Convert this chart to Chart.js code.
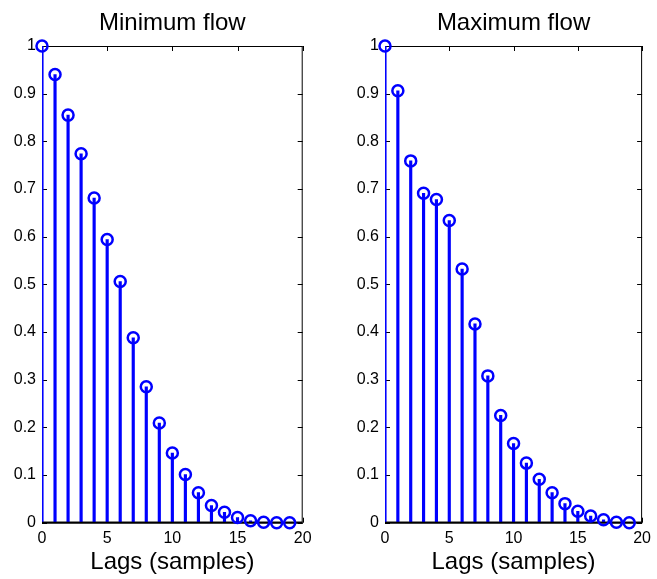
<!DOCTYPE html>
<html>
<head>
<meta charset="utf-8">
<script src="https://cdn.jsdelivr.net/npm/chart.js@4/dist/chart.umd.min.js"></script>
<style>
  body { margin: 0; background: #fff; }
  #wrap { position: relative; width: 657px; height: 579px; }
  canvas { position: absolute; top: 0; }
</style>
</head>
<body>
<div id="wrap">
  <canvas id="chartMin" width="328" height="579" style="left:0"></canvas>
  <canvas id="chartMax" width="329" height="579" style="left:328px"></canvas>
</div>
<script>
var lags = [0, 1, 2, 3, 4, 5, 6, 7, 8, 9, 10, 11, 12, 13, 14, 15, 16, 17, 18, 19];
var minFlow = [1.0, 0.940, 0.855, 0.774, 0.681, 0.594, 0.506, 0.388, 0.285, 0.209,
               0.146, 0.101, 0.063, 0.036, 0.022, 0.011, 0.004, 0.001, 0.0, 0.0];
var maxFlow = [1.0, 0.906, 0.759, 0.691, 0.678, 0.634, 0.532, 0.417, 0.308, 0.225,
               0.166, 0.125, 0.091, 0.063, 0.040, 0.024, 0.014, 0.006, 0.001, 0.0];
var xTicks = [0, 5, 10, 15, 20];
var yTicks = [0, 0.1, 0.2, 0.3, 0.4, 0.5, 0.6, 0.7, 0.8, 0.9, 1];
var titles = ['Minimum flow', 'Maximum flow'];
var xLabel = 'Lags (samples)';

var FONT = "'Liberation Sans', Arial, Helvetica, sans-serif";
var BLUE = '#0000ff';

// box with inward ticks, matlab style
var boxPlugin = {
    id: 'box',
    beforeDatasetsDraw: function(chart) {
        var ctx = chart.ctx, a = chart.chartArea;
        var x = chart.scales.x, y = chart.scales.y;
        ctx.save();
        ctx.strokeStyle = '#000';
        ctx.lineWidth = 1;
        ctx.strokeRect(a.left + 0.5, a.top + 0.5, a.right - a.left - 1, a.bottom - a.top - 1);
        ctx.beginPath();
        x.ticks.forEach(function(t) {
            var px = Math.round(x.getPixelForValue(t.value)) + 0.5;
            ctx.moveTo(px, a.top); ctx.lineTo(px, a.top + 5);
            ctx.moveTo(px, a.bottom); ctx.lineTo(px, a.bottom - 5);
        });
        y.ticks.forEach(function(t) {
            var py = Math.round(y.getPixelForValue(t.value)) + 0.5;
            ctx.moveTo(a.left, py); ctx.lineTo(a.left + 5, py);
            ctx.moveTo(a.right, py); ctx.lineTo(a.right - 5, py);
        });
        ctx.stroke();
        ctx.restore();
    },
    afterDatasetDraw: function(chart, args) {
        if (args.meta.type !== 'bar') return;
        var ctx = chart.ctx, a = chart.chartArea;
        var py = chart.scales.y.getPixelForValue(0);
        ctx.save();
        ctx.strokeStyle = '#000';
        ctx.lineWidth = 2;
        ctx.beginPath();
        ctx.moveTo(a.left, py);
        ctx.lineTo(a.right, py);
        ctx.stroke();
        ctx.restore();
    }
};

function makeStem(id, title, values, yAxisWidth, rightPad) {
    var ctx = document.getElementById(id).getContext('2d');
    return new Chart(ctx, {
        type: 'bar',
        data: {
            datasets: [{
                type: 'line',
                data: lags.map(function(l, i) { return {x: l, y: values[i]}; }),
                showLine: false,
                pointStyle: 'circle',
                pointRadius: 5.5,
                pointBorderWidth: 2.5,
                pointBorderColor: BLUE,
                pointBackgroundColor: 'rgba(0,0,0,0)',
                clip: false,
                order: 0
            }, {
                type: 'bar',
                data: lags.map(function(l, i) { return {x: l, y: values[i]}; }),
                backgroundColor: BLUE,
                barThickness: 2.5,
                order: 1
            }]
        },
        options: {
            responsive: false,
            animation: false,
            devicePixelRatio: 1,
            layout: { padding: { left: 0, right: rightPad, top: 0, bottom: 0 } },
            plugins: {
                legend: { display: false },
                tooltip: { enabled: false },
                title: {
                    display: true,
                    text: title,
                    fullSize: false,
                    color: '#000',
                    font: { family: FONT, size: 24, weight: 'normal', lineHeight: 1.2 },
                    padding: { top: 9, bottom: 8.2 }
                }
            },
            scales: {
                x: {
                    type: 'linear',
                    min: 0,
                    max: 20,
                    offset: false,
                    afterBuildTicks: function(s) { s.ticks = xTicks.map(function(v) { return {value: v}; }); },
                    afterFit: function(s) { s.height = 56.3; },
                    grid: { display: false, drawTicks: false },
                    border: { display: false },
                    ticks: {
                        color: '#000', padding: 6, maxRotation: 0,
                        font: { family: FONT, size: 16 },
                        callback: function(v) { return String(v); }
                    },
                    title: {
                        display: true,
                        text: xLabel,
                        color: '#000',
                        font: { family: FONT, size: 24, lineHeight: 1.2 },
                        padding: { top: 0, bottom: 2 }
                    }
                },
                y: {
                    min: 0,
                    max: 1,
                    afterBuildTicks: function(s) { s.ticks = yTicks.map(function(v) { return {value: v}; }); },
                    afterFit: function(s) { s.width = yAxisWidth; },
                    grid: { display: false, drawTicks: false },
                    border: { display: false },
                    ticks: {
                        color: '#000', padding: 6,
                        font: { family: FONT, size: 16 },
                        callback: function(v) { return String(v); }
                    }
                }
            }
        },
        plugins: [boxPlugin]
    });
}

makeStem('chartMin', titles[0], minFlow, 42, 25.3);
makeStem('chartMax', titles[1], maxFlow, 57, 11.3);
</script>
</body>
</html>
